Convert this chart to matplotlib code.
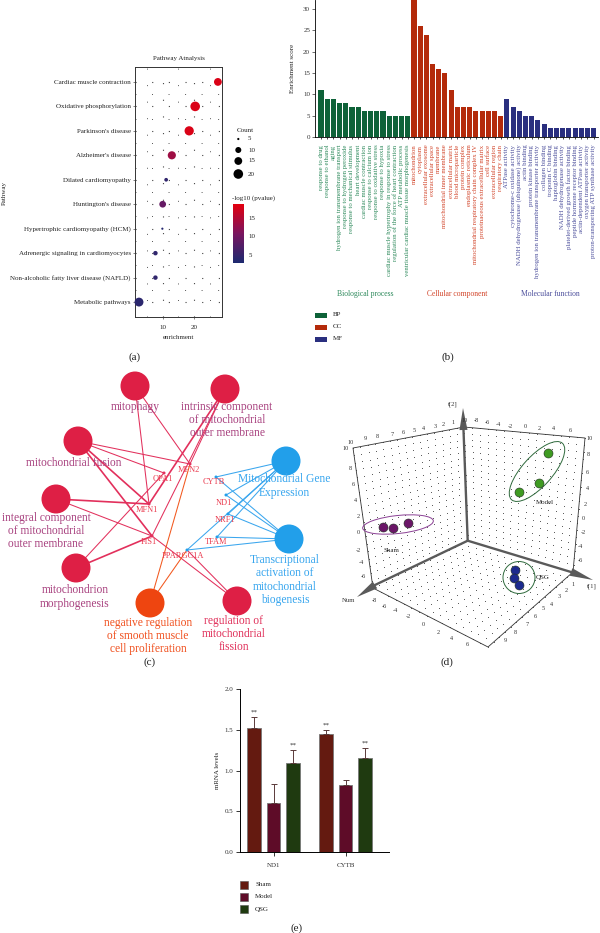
import numpy as np
import matplotlib
matplotlib.use('Agg')
import matplotlib.pyplot as plt
from matplotlib.colors import LinearSegmentedColormap, Normalize
from matplotlib.patches import Circle, Ellipse, Polygon, Rectangle

plt.rcParams['font.family'] = ['Liberation Serif', 'DejaVu Serif']
plt.rcParams['axes.unicode_minus'] = False

# panel a, pathway dot plot
pathways = ['Cardiac muscle contraction', 'Oxidative phosphorylation', "Parkinson's disease",
            "Alzheimer's disease", 'Dilated cardiomyopathy', "Huntington's disease",
            'Hypertrophic cardiomyopathy (HCM)', 'Adrenergic signaling in cardiomyocytes',
            'Non-alcoholic fatty liver disease (NAFLD)', 'Metabolic pathways']
enrichment = [27.5, 20.3, 18.4, 12.9, 11.1, 10.0, 9.9, 7.7, 7.7, 2.5]
counts = [15, 20, 19, 16, 7, 12, 5, 8, 8, 18]
log_p = [18, 18, 18, 13.5, 4.5, 9, 3.5, 4.5, 4.5, 4]
count_legend = [5, 10, 15, 20]

# panel b, GO enrichment bars
bp_terms = ['response to drug', 'response to ethanol', 'aging', 'hydrogen ion transmembrane transport',
            'response to hydrogen peroxide', 'response to mechanical stimulus', 'heart development',
            'cardiac muscle contraction', 'response to calcium ion', 'response to oxidative stress',
            'response to hypoxia', 'cardiac muscle hypertrophy in response to stress',
            'regulation of the force of heart contraction', 'ATP metabolic process',
            'ventricular cardiac muscle tissue morphogenesis']
cc_terms = ['mitochondrion', 'cytoplasm', 'extracellular exosome', 'extracellular space', 'membrane',
            'mitochondrial inner membrane', 'extracellular matrix', 'blood microparticle', 'protein complex',
            'endoplasmic reticulum', 'mitochondrial respiratory chain complex IV',
            'proteinaceous extracellular matrix', 'cell surface', 'extracellular region', 'respiratory chain']
mf_terms = ['ATPase activity', 'cytochrome-c oxidase activity', 'NADH dehydrogenase (ubiquinone) activity',
            'actin binding', 'protein kinase binding', 'hydrogen ion transmembrane transporter activity',
            'collagen binding', 'troponin C binding', 'haptoglobin binding', 'NADH dehydrogenase activity',
            'platelet-derived growth factor binding', 'peptide hormone receptor binding',
            'actin-dependent ATPase activity', 'oxygen transporter activity',
            'proton-transporting ATP synthase activity']
bp_scores = [11, 9, 9, 8, 8, 7, 7, 6, 6, 6, 6, 5, 5, 5, 5]
cc_scores = [32, 26, 24, 17, 16, 15, 11, 7, 7, 7, 6, 6, 6, 6, 5]
mf_scores = [9, 7, 6, 5, 5, 4, 3, 2, 2, 2, 2, 2, 2, 2, 2]

# panel c, network (positions in pixels)
red_nodes = {'mitophagy': (135, 386), 'intrinsic': (225, 389), 'fusion': (78, 441),
             'integral': (56, 499), 'morph': (76, 568), 'regfis': (237, 601)}
orange_nodes = {'negreg': (150, 603)}
blue_nodes = {'gene': (286, 461), 'transcr': (289, 539)}
genes = {'OPA1': (164, 473), 'MFN2': (190, 464), 'MFN1': (149, 504), 'FIS1': (152, 536),
         'CYTB': (216, 477), 'ND1': (226, 495), 'NRF1': (228, 514), 'TFAM': (217, 537),
         'PPARGC1A': (187, 550)}
gene_labels = {'OPA1': (163, 479), 'MFN2': (189, 470), 'MFN1': (147, 510), 'FIS1': (149, 542),
               'CYTB': (214, 482), 'ND1': (224, 503), 'NRF1': (225, 520), 'TFAM': (216, 542),
               'PPARGC1A': (183, 556)}
red_edges = [('mitophagy', 'MFN1', 1.0), ('mitophagy', 'MFN2', 1.0), ('intrinsic', 'MFN1', 1.6),
             ('intrinsic', 'MFN2', 1.0), ('intrinsic', 'FIS1', 1.0), ('fusion', 'MFN2', 1.0),
             ('fusion', 'OPA1', 1.0), ('fusion', 'MFN1', 1.6), ('fusion', 'FIS1', 1.6),
             ('integral', 'MFN1', 1.6), ('integral', 'FIS1', 1.0), ('morph', 'OPA1', 1.0),
             ('morph', 'FIS1', 1.6), ('regfis', 'FIS1', 1.0), ('regfis', 'PPARGC1A', 1.0)]
orange_edges = [('negreg', 'MFN2', 1.0), ('negreg', 'PPARGC1A', 1.0)]
blue_edges = [(n, g, 1.0) for n in ['gene', 'transcr'] for g in ['CYTB', 'ND1', 'NRF1', 'TFAM', 'PPARGC1A']]
node_texts = [('mitophagy', 135, 407, '#a8417f'),
              ('intrinsic component\nof mitochondrial\nouter membrane', 227, 420, '#a8417f'),
              ('mitochondrial fusion', 74, 463, '#a8417f'),
              ('integral component\nof mitochondrial\nouter membrane', 46, 531, '#a8417f'),
              ('mitochondrion\nmorphogenesis', 75, 597, '#a8417f'),
              ('negative regulation\nof smooth muscle\ncell proliferation', 148, 636, '#f0501e'),
              ('regulation of\nmitochondrial\nfission', 234, 634, '#e0305a'),
              ('Mitochondrial Gene\nExpression', 284, 486, '#36a5ee'),
              ('Transcriptional\nactivation of\nmitochondrial\nbiogenesis', 285, 580, '#36a5ee')]

# panel d, 3D score plot (picture coordinates)
wall_top = (464, 427)
origin = (467.7, 540.7)
left_top = (353, 448)
left_bottom = (373, 588)
right_top = (585, 438)
right_bottom = (573, 572)
front = (488, 647)
sham_pts = [(382.7, 526.7), (393, 527.7), (408.3, 523)]
model_pts = [(548.3, 453), (539.3, 483.3), (519, 492)]
qsg_pts = [(515, 570.3), (514.3, 578), (518.7, 585)]
ticks_back_left = [('10', 351, 442), ('9', 365, 439), ('8', 377, 437), ('7', 392, 435), ('6', 403, 433),
                   ('5', 414, 431), ('4', 424, 429), ('3', 435, 427), ('2', 443, 424), ('1', 453, 423)]
ticks_back_right = [('10', 465, 420), ('-8', 476, 420), ('-6', 487, 422), ('-4', 498, 424), ('-2', 510, 427),
                    ('0', 525, 427), ('2', 539, 428), ('4', 553, 429), ('6', 570, 431), ('10', 590, 438)]
ticks_left = [('10', 346, 449), ('8', 350, 468), ('6', 353, 484), ('4', 355, 501), ('2', 358, 517),
              ('0', 358, 533), ('-2', 358, 550), ('-4', 361, 563), ('-6', 363, 577)]
ticks_right = [('8', 588, 455), ('6', 587, 472), ('4', 587, 488), ('2', 585, 504), ('0', 583, 518),
               ('-2', 583, 533), ('-4', 580, 547), ('-6', 580, 560)]
ticks_front_left = [('-8', 374, 600), ('-6', 384, 606), ('-4', 395, 611), ('-2', 408, 617), ('0', 423, 624),
                    ('2', 438, 632), ('4', 452, 638), ('6', 467, 645)]
ticks_front_right = [('1', 573, 585), ('2', 566, 591), ('3', 559, 597), ('4', 552, 604), ('5', 543, 608),
                     ('6', 535, 617), ('7', 527, 624), ('8', 515, 633), ('9', 505, 641)]

# panel e, mRNA bars
mrna_groups = ['ND1', 'CYTB']
sham_vals = [1.52, 1.45]
model_vals = [0.60, 0.82]
qsg_vals = [1.10, 1.16]
sham_err = [0.14, 0.05]
model_err = [0.23, 0.07]
qsg_err = [0.15, 0.12]

W, H = 600, 933
fig = plt.figure(figsize=(6, 9.33), dpi=100)


def px_axes(left, top, right, bottom):
    return fig.add_axes([left / W, 1 - bottom / H, (right - left) / W, (bottom - top) / H])


# overlay in picture pixels for the network, the 3D plot and loose text
ov = fig.add_axes([0, 0, 1, 1])
ov.set_xlim(0, W)
ov.set_ylim(H, 0)
ov.axis('off')

for label, x, y in [('(a)', 135, 357), ('(b)', 448, 357), ('(c)', 150, 662), ('(d)', 447, 662), ('(e)', 297, 928)]:
    ov.text(x, y, label, fontsize=8, ha='center', va='center', color='#222222')

# ---------------------------------------------------------------- panel a
cmap = LinearSegmentedColormap.from_list('pval', ['#1d2a70', '#7a1560', '#e4000f'])
norm = Normalize(2.8, 18.8)
sizes_px = np.interp(counts, count_legend, [2.2, 6, 7.8, 9.6])

ax = px_axes(135, 67, 222, 317)
ax.set_xlim(1.23, 28.8)
ax.set_ylim(len(pathways) - 0.39, -0.61)
ypos = np.arange(len(pathways))
ax.scatter(enrichment, ypos, s=(sizes_px * 0.72) ** 2, c=log_p, cmap=cmap, norm=norm, zorder=3, linewidths=0, clip_on=False)
ax.set_xticks([10, 20])
ax.set_yticks(ypos)
ax.set_yticklabels(pathways)
ax.tick_params(axis='y', labelsize=5, length=1.5, width=0.4, pad=1.5, colors='#222222')
ax.tick_params(axis='x', labelsize=5, length=1.5, width=0.4, pad=4, colors='#222222')
ax.grid(True, color='#444444', linewidth=0.8, linestyle=(0, (1, 14)))
ax.set_xticks([5, 15, 25], minor=True)
ax.set_yticks(ypos[:-1] + 0.5, minor=True)
ax.grid(True, which='minor', color='#555555', linewidth=0.7, linestyle=(0, (1, 16)))
ax.tick_params(which='minor', length=0)
ax.set_axisbelow(True)
for s in ax.spines.values():
    s.set_linewidth(0.7)
    s.set_color('#333333')
ax.set_title('Pathway Atnalysis', fontsize=5, pad=5, color='#222222')
ax.set_xlabel('enrichment', fontsize=5, labelpad=4, color='#222222')
ov.text(4, 193, 'Pathway', rotation=90, fontsize=5, ha='center', va='center', color='#222222')

# count legend
ov.text(245, 131, 'Count', fontsize=5, ha='center', va='center', color='#222222')
legend_y = [139, 150, 161, 174]
legend_d = [2.2, 6, 7.8, 9.6]
for c, y, d in zip(count_legend, legend_y, legend_d):
    ov.add_patch(Circle((238.3, y), d / 2, color='black', lw=0))
    ov.text(248, y, str(c), fontsize=5, va='center', color='#222222')

# colour bar
ov.text(232, 198.5, '-log10 (pvalue)', fontsize=5, va='center', color='#222222')
cax = px_axes(233, 204, 244, 263)
cax.imshow(np.linspace(18.8, 2.8, 128).reshape(-1, 1), cmap=cmap, norm=norm, aspect='auto', extent=[0, 1, 2.8, 18.8])
cax.set_xticks([])
cax.yaxis.tick_right()
cax.set_yticks([5, 10, 15])
cax.tick_params(labelsize=5, length=0, pad=3, colors='#222222')
for s in cax.spines.values():
    s.set_visible(False)

# ---------------------------------------------------------------- panel b
GREEN, RED, NAVY = '#0e6238', '#b42a0a', '#2a2f7f'
bx = px_axes(315, 0, 598, 137)
all_terms = bp_terms + cc_terms + mf_terms
all_scores = bp_scores + cc_scores + mf_scores
bar_colors = [GREEN] * len(bp_terms) + [RED] * len(cc_terms) + [NAVY] * len(mf_terms)
xb = np.arange(len(all_terms))
bx.bar(xb, all_scores, width=0.82, color=bar_colors)
bx.set_xlim(-0.97, 44.7)
bx.set_ylim(0, 32.1)
bx.set_yticks([0, 5, 10, 15, 20, 25, 30])
bx.set_xticks(xb)
bx.set_xticklabels(all_terms, rotation=90, ha='center', va='top')
for tick, col in zip(bx.get_xticklabels(), bar_colors):
    tick.set_color({GREEN: '#2e8a5c', RED: '#d2452a', NAVY: '#4c4f9c'}[col])
bx.tick_params(axis='x', labelsize=4.9, length=1.5, width=0.5, pad=4)
bx.tick_params(axis='y', labelsize=5, length=2, width=0.5, pad=1.5, colors='#333333')
bx.spines['top'].set_visible(False)
bx.spines['right'].set_visible(False)
bx.spines['left'].set_linewidth(0.6)
bx.spines['bottom'].set_linewidth(0.6)
ov.text(293, 68, 'Enrichment score', rotation=90, fontsize=5, ha='center', va='center', color='#222222')
for label, x, col in [('Biological process', 365, '#2e8a5c'), ('Cellular component', 457, '#d2452a'), ('Molecular function', 550, '#4c4f9c')]:
    ov.text(x, 294, label, fontsize=5.5, ha='center', va='center', color=col)
for label, y, col in [('BP', 315, GREEN), ('CC', 327, RED), ('MF', 339, NAVY)]:
    ov.add_patch(Rectangle((315, y - 2.5), 12, 5, color=col, lw=0))
    ov.text(333, y, label, fontsize=5, va='center', color='#222222')

# ---------------------------------------------------------------- panel c
all_pos = {**red_nodes, **orange_nodes, **blue_nodes, **genes}
for edges, col in [(red_edges, '#e2305c'), (orange_edges, '#f2581e'), (blue_edges, '#3aa6ee')]:
    for a, b, lw in edges:
        ov.plot([all_pos[a][0], all_pos[b][0]], [all_pos[a][1], all_pos[b][1]], color=col, lw=lw * 0.75, zorder=2)
for nodes, col in [(red_nodes, '#de1f45'), (orange_nodes, '#ee4510'), (blue_nodes, '#229fea')]:
    for p in nodes.values():
        ov.add_patch(Circle(p, 14.5, color=col, lw=0, zorder=3))
red_genes = ['OPA1', 'MFN2', 'MFN1', 'FIS1']
for name, p in genes.items():
    ov.add_patch(Circle(p, 1.5, color='#e2305c' if name in red_genes else '#229fea', lw=0, zorder=4))
for name, p in gene_labels.items():
    ov.text(p[0], p[1], name, fontsize=6, ha='center', va='center', color='#ea3a4e', zorder=5)
for text, x, y, col in node_texts:
    ov.text(x, y, text, fontsize=8.3, ha='center', va='center', color=col, zorder=5, linespacing=1.12)

# ---------------------------------------------------------------- panel d


def wall_dots(a, b, c, d, nu, nv):
    # dotted grid across a four corner wall
    pts = []
    for u in np.linspace(0, 1, nu):
        for v in np.linspace(0, 1, nv):
            top = np.array(a) * (1 - u) + np.array(b) * u
            bot = np.array(d) * (1 - u) + np.array(c) * u
            pts.append(top * (1 - v) + bot * v)
    pts = np.array(pts)
    ov.scatter(pts[:, 0], pts[:, 1], s=0.5, color='#555555', linewidths=0, zorder=1)


wall_dots(left_top, wall_top, origin, left_bottom, 16, 20)
wall_dots(wall_top, right_top, right_bottom, origin, 16, 20)
wall_dots(left_bottom, origin, right_bottom, front, 16, 16)

frame = [left_bottom, left_top, wall_top, right_top, right_bottom, front, left_bottom]
ov.plot([p[0] for p in frame], [p[1] for p in frame], color='#333333', lw=0.6, zorder=2)
for tip, base in [((463, 408), (463.5, 430)), ((357, 597), (375, 585)), ((593, 580), (571, 572))]:
    ov.plot([origin[0], base[0]], [origin[1], base[1]], color='#5a5a5a', lw=1.7, zorder=2, solid_capstyle='round')
    d = np.array(tip) - np.array(base)
    n = np.array([-d[1], d[0]]) / np.hypot(*d) * 4
    ov.add_patch(Polygon([tip, np.array(base) + n, np.array(base) - n], color='#5a5a5a', lw=0, zorder=2))

for ticks in [ticks_back_left, ticks_back_right, ticks_left, ticks_right, ticks_front_left, ticks_front_right]:
    for label, x, y in ticks:
        ov.text(x, y, label, fontsize=4.5, ha='center', va='center', color='#333333')
ov.text(453, 404, 't[2]', fontsize=4.8, ha='center', va='center', color='#333333')
ov.text(592, 586, 't[1]', fontsize=4.8, ha='center', va='center', color='#333333')
ov.text(349, 600, 'Num', fontsize=4.8, ha='center', va='center', color='#333333')
ov.text(391, 550, 'Sham', fontsize=5, ha='center', va='center', color='#222222')
ov.text(545, 502.5, 'Model', fontsize=5, ha='center', va='center', color='#222222')
ov.text(543, 578, 'QSG', fontsize=5, ha='center', va='center', color='#222222')

ov.add_patch(Ellipse((398, 524.5), 71, 18, angle=-6, fill=False, ec='#8a3f94', lw=0.7, zorder=3))
ov.add_patch(Ellipse((537, 471.5), 76, 30, angle=-48, fill=False, ec='#2f6a3c', lw=0.7, zorder=3))
ov.add_patch(Circle((519, 577.5), 16, fill=False, ec='#2f6a3c', lw=0.7, zorder=3))
for pts, col in [(sham_pts, '#6b1668'), (model_pts, '#3f9b22'), (qsg_pts, '#1c2a8e')]:
    ov.scatter([p[0] for p in pts], [p[1] for p in pts], s=42, color=col, edgecolors='#1f2f1f', linewidths=0.4, zorder=4)

# ---------------------------------------------------------------- panel e
ex = px_axes(240, 689.3, 389, 852)
group_x = np.array([0.0, 3.65])
series = [(sham_vals, sham_err, '#641a10', -1), (model_vals, model_err, '#5e0c28', 0), (qsg_vals, qsg_err, '#1f3a10', 1)]
for vals, errs, col, off in series:
    xs = group_x + off
    ex.bar(xs, vals, width=0.7, color=col, edgecolor='#777777', linewidth=0.6)
    ex.errorbar(xs, vals, yerr=[np.zeros(2), errs], fmt='none', ecolor='#5a3a3a', elinewidth=0.7, capsize=2, capthick=0.7)
stars_x = [group_x[0] - 1, group_x[0] + 1, group_x[1] - 1, group_x[1] + 1]
stars_y = [sham_vals[0] + sham_err[0], qsg_vals[0] + qsg_err[0], sham_vals[1] + sham_err[1], qsg_vals[1] + qsg_err[1]]
for x, y in zip(stars_x, stars_y):
    ex.text(x, y + 0.06, '**', fontsize=5, ha='center', va='center', color='#333333')
ex.set_ylim(0, 2.0)
ex.set_xlim(group_x[0] - 1 - 0.7, group_x[1] + 1 + 1.2)
ex.set_yticks([0, 0.5, 1.0, 1.5, 2.0])
ex.set_xticks(group_x)
ex.set_xticklabels(mrna_groups)
ex.tick_params(axis='y', labelsize=5, length=3, width=0.7, pad=2, colors='#333333')
ex.tick_params(axis='x', labelsize=5, length=3, width=0.7, pad=5, colors='#333333')
ex.set_ylabel('mRNA levels', fontsize=5, labelpad=3, color='#222222')
ex.spines['top'].set_visible(False)
ex.spines['right'].set_visible(False)
ex.spines['left'].set_linewidth(0.7)
ex.spines['bottom'].set_linewidth(0.7)
for label, y, col in [('Sham', 885, '#641a10'), ('Model', 897, '#5e0c28'), ('QSG', 909, '#1f3a10')]:
    ov.add_patch(Rectangle((240, y - 4), 8, 8, facecolor=col, edgecolor='#555555', lw=0.4))
    ov.text(255, y, label, fontsize=5, va='center', color='#222222')

fig.savefig('out.png', dpi=100)
